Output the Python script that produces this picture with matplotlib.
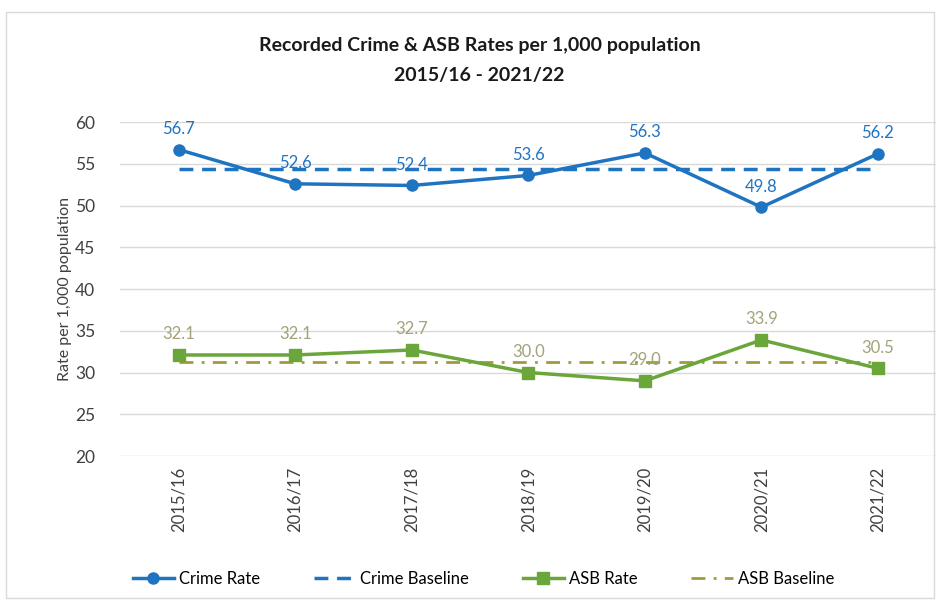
import matplotlib
matplotlib.use('Agg')
import matplotlib.pyplot as plt
from matplotlib.patches import Rectangle

plt.rcParams['font.family'] = ['Lato', 'DejaVu Sans']

years = ['2015/16', '2016/17', '2017/18', '2018/19', '2019/20', '2020/21', '2021/22']
crime_rate = [56.7, 52.6, 52.4, 53.6, 56.3, 49.8, 56.2]
asb_rate = [32.1, 32.1, 32.7, 30.0, 29.0, 33.9, 30.5]
crime_baseline = [54.4] * 7
asb_baseline = [31.3] * 7

blue = '#1f74c2'
green = '#6aa63a'
asb_base_col = '#a19a3a'
asb_label_col = '#a3a27a'

fig = plt.figure(figsize=(9.4, 6.04), dpi=100)
fig.patches.append(Rectangle((0.006, 0.01), 0.988, 0.97, transform=fig.transFigure,
                             fill=False, edgecolor='#d9d9d9', lw=1))
ax = fig.add_axes([0.128, 0.245, 0.868, 0.553])

x = list(range(len(years)))
ax.plot(x, crime_rate, color=blue, lw=2.5, marker='o', ms=8, label='Crime Rate', zorder=4)
ax.plot(x, crime_baseline, color=blue, lw=2.5, ls=(0, (4, 2.5)), label='Crime Baseline', zorder=3)
ax.plot(x, asb_rate, color=green, lw=2.5, marker='s', ms=8, label='ASB Rate', zorder=4)
ax.plot(x, asb_baseline, color=asb_base_col, lw=2, ls=(0, (5, 3, 1, 3)), label='ASB Baseline', zorder=3)

for i, v in enumerate(crime_rate):
    ax.annotate(f'{v:.1f}', (i, v), xytext=(0, 9), textcoords='offset points',
                ha='center', va='bottom', color=blue, fontsize=12)
for i, v in enumerate(asb_rate):
    ax.annotate(f'{v:.1f}', (i, v), xytext=(0, 9), textcoords='offset points',
                ha='center', va='bottom', color=asb_label_col, fontsize=12)

ax.set_xlim(-0.5, 6.5)
ax.set_ylim(20, 60)
ax.set_yticks(range(20, 61, 5))
ax.set_xticks(x)
ax.set_xticklabels(years, rotation=90, fontsize=12, color='#404040')
ax.tick_params(axis='y', labelsize=12.5, colors='#404040', length=0, pad=18)
ax.tick_params(axis='x', length=0, pad=8)
ax.grid(axis='y', color='#d9d9d9', lw=1)
ax.set_axisbelow(True)
for s in ax.spines.values():
    s.set_visible(False)
ax.set_ylabel('Rate per 1,000 population', fontsize=11.5, color='#404040', labelpad=2)

fig.text(0.51, 0.925, 'Recorded Crime & ASB Rates per 1,000 population',
         ha='center', va='center', fontsize=14, fontweight='bold', color='#1a1a1a')
fig.text(0.51, 0.875, '2015/16 - 2021/22', ha='center', va='center',
         fontsize=14, fontweight='bold', color='#1a1a1a')

ax.legend(loc='upper center', bbox_to_anchor=(0.445, -0.30), ncol=4, frameon=False,
          fontsize=12, handlelength=2.5, columnspacing=3.2, handletextpad=0.3)

fig.savefig('out.png', dpi=100)
